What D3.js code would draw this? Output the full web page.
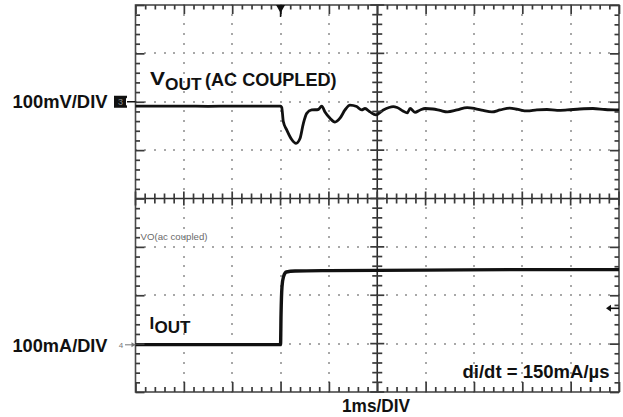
<!DOCTYPE html>
<html>
<head>
<meta charset="utf-8">
<script src="https://cdn.jsdelivr.net/npm/d3@7"></script>
<style>
  html, body { margin: 0; padding: 0; background: #fff; }
  svg { display: block; }
  .lbl { font-family: "Liberation Sans", Arial, sans-serif; font-weight: bold; fill: #111; }
</style>
</head>
<body>
<div id="chart"></div>
<script>
// ---- data (time in ms relative to load step, 1 ms/DIV) ----
const voutTime = [-3, -2.5, -2, -1.5, -1, -0.5, 0, 0.024, 0.057, 0.127, 0.231, 0.320, 0.402, 0.471, 0.541, 0.644, 0.781, 0.851, 0.919, 1.023, 1.126, 1.229, 1.333, 1.436, 1.575, 1.678, 1.747, 1.85, 1.974, 2.125, 2.332, 2.41, 2.53, 2.62, 2.68, 2.78, 2.89, 2.99, 3.15, 3.30, 3.45, 3.65, 3.86, 4.02, 4.19, 4.37, 4.54, 4.74, 4.91, 5.10, 5.30, 5.51, 5.72, 5.93, 6.19, 6.46, 6.71, 7];
// VOUT (AC coupled), mV, 100 mV/DIV, relative to channel 3 marker
const voutMV = [-9, -9, -9, -9.5, -9, -9, -9, -11.5, -41, -58, -78, -86, -76, -45, -24, -17, -16, -9, -21, -34, -42, -34, -17, -7, -10, -17, -14, -21, -27, -17, -10, -12, -19, -23, -14, -22, -17, -14, -15, -18, -21, -17, -12, -14, -18, -21, -17, -13, -16, -19, -17, -16, -18, -17, -15, -14, -16, -17];
const ioutTime = [-3, 0, 0.01, 0.03, 0.06, 0.12, 0.3, 1, 3, 5, 7];
// IOUT, mA, 100 mA/DIV, relative to channel 4 marker
const ioutMA = [-2, -2, 60, 118, 138, 148, 150, 151, 152, 153, 153];
const timeDomain = [-3, 7];      // 10 horizontal divisions
const divDomain = [-4, 4];       // 8 vertical divisions
const ch3Offset = 2;             // channel 3 (VOUT) ground marker, divisions
const ch4Offset = -3;            // channel 4 (IOUT) ground marker, divisions
const labels = {
  vScale: "100mV/DIV", iScale: "100mA/DIV", tScale: "1ms/DIV",
  slew: "di/dt = 150mA/µs", scopeNote: "VO(ac coupled)"
};

// ---- layout ----
const W = 623, H = 417;
const L = 135.5, R = 619, T = 5, B = 392;
const svg = d3.select("#chart").append("svg").attr("width", W).attr("height", H);
svg.append("rect").attr("width", W).attr("height", H).attr("fill", "#fff");

const x = d3.scaleLinear().domain(timeDomain).range([L, R]);
const y = d3.scaleLinear().domain(divDomain).range([B, T]);

const isMajor = v => Math.abs(v - Math.round(v)) < 1e-6;
const majorX = d3.range(0, 11).map(i => timeDomain[0] + i);
const minorX = d3.range(0, 51).map(i => timeDomain[0] + i * 0.2);
const majorY = d3.range(0, 9).map(i => divDomain[0] + i);
const minorY = d3.range(0, 41).map(i => divDomain[0] + i * 0.2);

// ---- dotted grid ----
const gridVX = majorX.filter(v => v > timeDomain[0] && v < timeDomain[1] && v !== 2);
const gridHY = majorY.filter(v => v > divDomain[0] && v < divDomain[1] && v !== 0);
const dots = [];
gridVX.forEach(gx => minorY.forEach(gy => dots.push([gx, gy])));
gridHY.forEach(gy => minorX.forEach(gx => dots.push([gx, gy])));
svg.append("g").selectAll("rect.dot").data(dots).enter().append("rect")
  .attr("class", "dot")
  .attr("x", d => Math.round(x(d[0])) - 1).attr("y", d => Math.round(y(d[1])) - 1)
  .attr("width", 2).attr("height", 2).attr("fill", "#a8a8a8");

// ---- frame ----
svg.append("rect").attr("x", L).attr("y", T).attr("width", R - L).attr("height", B - T)
  .attr("fill", "none").attr("stroke", "#4a4a4a").attr("stroke-width", 1.6);

// ---- center cross lines ----
const cx0 = x(2), cy0 = y(0);
svg.append("line").attr("x1", cx0).attr("x2", cx0).attr("y1", T).attr("y2", B)
  .attr("stroke", "#2a2a2a").attr("stroke-width", 1.6);
svg.append("line").attr("x1", L).attr("x2", R).attr("y1", cy0).attr("y2", cy0)
  .attr("stroke", "#2a2a2a").attr("stroke-width", 1.6);

// ---- traces ----
const vData = voutTime.map((t, i) => [t, ch3Offset + voutMV[i] / 100]);
const iData = ioutTime.map((t, i) => [t, ch4Offset + ioutMA[i] / 100]);
svg.append("path").datum(vData)
  .attr("d", d3.line().x(d => x(d[0])).y(d => y(d[1])).curve(d3.curveMonotoneX))
  .attr("fill", "none").attr("stroke", "#111").attr("stroke-width", 2.8).attr("stroke-linejoin", "round");
svg.append("path").datum(iData)
  .attr("d", d3.line().x(d => x(d[0])).y(d => y(d[1])).curve(d3.curveMonotoneX))
  .attr("fill", "none").attr("stroke", "#111").attr("stroke-width", 3.4).attr("stroke-linejoin", "round");

// ---- ticks on frame edges and center lines (axes) ----
const tickColor = "#3a3a3a";
function styleAxis(g) {
  g.select(".domain").remove();
  g.selectAll(".tick line").attr("stroke", tickColor).attr("stroke-width", 1.7);
}
function addAxis(axis, tx, ty, vals, size) {
  svg.append("g").attr("transform", `translate(${tx},${ty})`)
    .call(axis.tickValues(vals).tickSize(size).tickFormat(() => ""))
    .call(styleAxis);
}
minorX.forEach(v => {});
const minorOnlyX = minorX.filter(v => !isMajor(v));
const minorOnlyY = minorY.filter(v => !isMajor(v));
addAxis(d3.axisBottom(x), 0, T, minorOnlyX, 4.5);
addAxis(d3.axisBottom(x), 0, T, majorX, 9);
addAxis(d3.axisTop(x), 0, B, minorOnlyX, 5);
addAxis(d3.axisTop(x), 0, B, majorX, 10);
addAxis(d3.axisRight(y), L, 0, minorOnlyY, 4.5);
addAxis(d3.axisRight(y), L, 0, majorY, 9);
addAxis(d3.axisLeft(y), R, 0, minorOnlyY, 4.5);
addAxis(d3.axisLeft(y), R, 0, majorY, 9);
// crossing ticks on the center lines
svg.append("g").selectAll("line.cty").data(minorY).enter().append("line").attr("class", "cty")
  .attr("x1", d => cx0 - (isMajor(d) ? 7 : 5))
  .attr("x2", d => cx0 + (isMajor(d) ? 7 : 5))
  .attr("y1", d => y(d)).attr("y2", d => y(d))
  .attr("stroke", tickColor).attr("stroke-width", 1.7);
svg.append("g").selectAll("line.ctx").data(minorX).enter().append("line").attr("class", "ctx")
  .attr("y1", d => cy0 - (isMajor(d) ? 7 : 5))
  .attr("y2", d => cy0 + (isMajor(d) ? 7 : 5))
  .attr("x1", d => x(d)).attr("x2", d => x(d))
  .attr("stroke", tickColor).attr("stroke-width", 1.7);

// ---- trigger marker (top) and level marker (right) ----
const tx = x(0);
svg.append("path").attr("d", `M${tx - 4.5},${T} L${tx + 4.5},${T} L${tx},${T + 8} Z`).attr("fill", "#111");
svg.append("line").attr("x1", tx).attr("x2", tx).attr("y1", T).attr("y2", T + 12)
  .attr("stroke", "#111").attr("stroke-width", 1.5);
const ry = y(-2.27);
svg.append("line").attr("x1", R - 11).attr("x2", R).attr("y1", ry).attr("y2", ry)
  .attr("stroke", "#111").attr("stroke-width", 1.6);
svg.append("path").attr("d", `M${R - 13},${ry} L${R - 8},${ry - 3.5} L${R - 8},${ry + 3.5} Z`).attr("fill", "#111");

// ---- channel 3 marker ----
const m3 = y(ch3Offset);
svg.append("rect").attr("x", 114).attr("y", m3 - 6).attr("width", 13).attr("height", 12).attr("fill", "#111");
svg.append("text").attr("x", 120.5).attr("y", m3 + 3.5).attr("text-anchor", "middle")
  .attr("font-family", "Liberation Sans, Arial").attr("font-size", 9).attr("fill", "#888").text("3");
svg.append("path").attr("d", `M126,${m3 - 4} L131,${m3} L126,${m3 + 4} Z`).attr("fill", "#fff");
svg.append("line").attr("x1", 127).attr("x2", L).attr("y1", m3).attr("y2", m3).attr("stroke", "#111").attr("stroke-width", 1.5);

// ---- channel 4 marker ----
const m4 = y(ch4Offset) + 1.2;
svg.append("text").attr("x", 121).attr("y", m4 + 3).attr("text-anchor", "middle")
  .attr("font-family", "Liberation Sans, Arial").attr("font-size", 8).attr("fill", "#777").text("4");
svg.append("line").attr("x1", 125).attr("x2", L).attr("y1", m4).attr("y2", m4).attr("stroke", "#777").attr("stroke-width", 1);
svg.append("path").attr("d", `M${L},${m4} L${L - 4},${m4 - 2.5} L${L - 4},${m4 + 2.5} Z`).attr("fill", "#777");

// ---- scope note ----
svg.append("text").attr("x", 140.5).attr("y", 239.5)
  .attr("font-family", "Liberation Sans, Arial").attr("font-size", 9.2).attr("fill", "#6a6a6a")
  .attr("textLength", 67).attr("lengthAdjust", "spacingAndGlyphs").text(labels.scopeNote);

// ---- bold labels ----
function lbl(xp, yp, txt, size, len, anchor) {
  const t = svg.append("text").attr("class", "lbl").attr("x", xp).attr("y", yp)
    .attr("font-size", size).text(txt);
  if (len) t.attr("textLength", len).attr("lengthAdjust", "spacingAndGlyphs");
  if (anchor) t.attr("text-anchor", anchor);
  return t;
}
lbl(12.5, 107.5, labels.vScale, 17.5, 95);
lbl(12.5, 352, labels.iScale, 17.5, 95);
lbl(609.5, 377.5, labels.slew, 17.5, 147, "end");
lbl(342, 411.5, labels.tScale, 17.5, 68);
lbl(150, 85, "V", 18, 15);
lbl(165, 89.5, "OUT", 17, 36.5);
lbl(205, 86, "(AC COUPLED)", 17.5, 131.5);
lbl(149.5, 329, "I", 17);
lbl(154.5, 333, "OUT", 17, 36);
</script>
</body>
</html>
